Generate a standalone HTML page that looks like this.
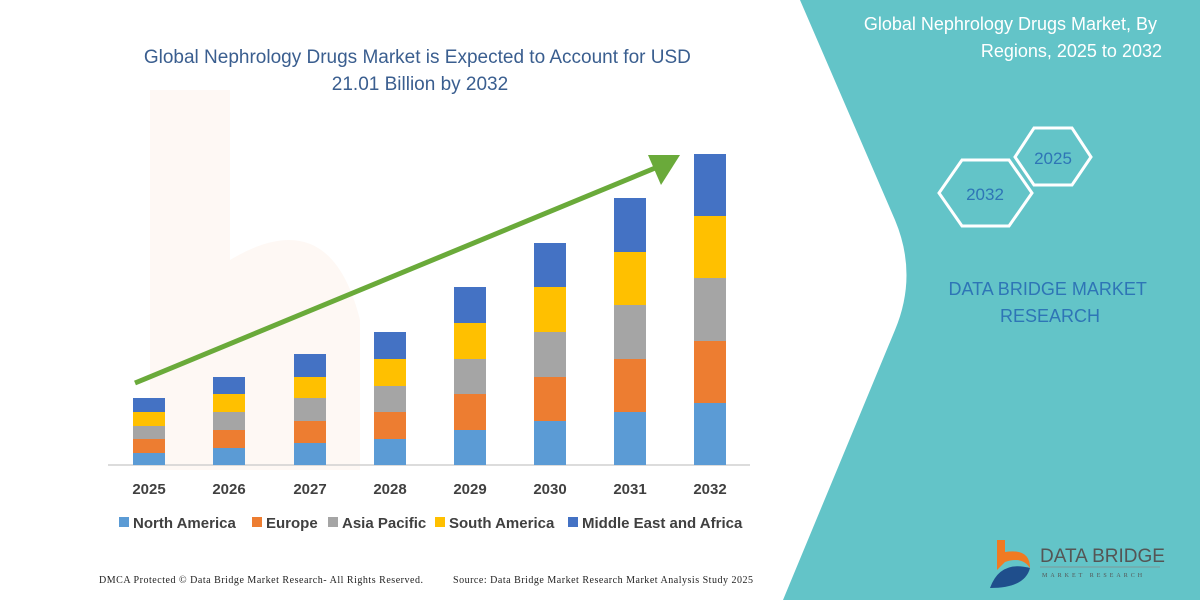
<!DOCTYPE html>
<html><head><meta charset="utf-8"><style>
html,body{margin:0;padding:0;background:#fff;}
svg{display:block;}
</style></head><body>
<svg width="1200" height="600" viewBox="0 0 1200 600" xmlns="http://www.w3.org/2000/svg">
<rect width="1200" height="600" fill="#fff"/>
<g opacity="0.05">
<path d="M150 90 L230 90 L230 260 Q330 200 360 320 L360 470 L150 470 Z" fill="#f07020"/>
</g>
<path d="M800 0 L1200 0 L1200 600 L783 600 L895 330 Q918 275 895 220 Z" fill="#63C4C8"/>
<text font-family="Liberation Sans, sans-serif" font-size="18" fill="#fff" text-anchor="end">
<tspan x="1162" y="30">Global Nephrology Drugs Market, By</tspan>
<tspan x="1162" y="57">Regions, 2025 to 2032</tspan></text>
<polygon points="1034,128 1072,128 1091,157 1072,185 1034,185 1015,157" fill="none" stroke="#fff" stroke-width="3"/>
<text x="1053" y="164" font-family="Liberation Sans, sans-serif" font-size="17" fill="#2E75B6" text-anchor="middle">2025</text>
<polygon points="962,160 1009,160 1032,193 1009,226 962,226 939,193" fill="none" stroke="#fff" stroke-width="3"/>
<text x="985" y="200" font-family="Liberation Sans, sans-serif" font-size="17" fill="#2E75B6" text-anchor="middle">2032</text>
<text font-family="Liberation Sans, sans-serif" font-size="18" fill="#2E75B6" text-anchor="middle">
<tspan x="1050" y="295">DATA BRIDGE MARKET</tspan>
<tspan x="1050" y="322">RESEARCH</tspan></text>
<path d="M997 540 L1005 540 L1005 552 Q1030 548 1030 568 Q1022 556 1005 562 L997 570 Z" fill="#F07A22"/>
<path d="M990 588 Q1000 560 1030 568 Q1025 588 990 588 Z" fill="#1F4E8C"/>
<text x="1040" y="562" font-family="Liberation Sans, sans-serif" font-size="19" fill="#555">DATA BRIDGE</text>
<line x1="1040" y1="567" x2="1160" y2="567" stroke="#888" stroke-width="0.8"/>
<text x="1042" y="577" font-family="Liberation Serif, serif" font-size="6" fill="#555" letter-spacing="3">MARKET RESEARCH</text>
<text font-family="Liberation Sans, sans-serif" font-size="19" fill="#3A5E8F" text-anchor="middle">
<tspan x="420" y="63">Global Nephrology Drugs Market is Expected to Account for USD</tspan>
<tspan x="420" y="90">21.01 Billion by 2032</tspan></text>
<line x1="108" y1="465" x2="750" y2="465" stroke="#d0d0d0" stroke-width="1.5"/>
<g>
<rect x="133" y="453" width="32" height="12" fill="#5B9BD5"/><rect x="133" y="439" width="32" height="14" fill="#ED7D31"/><rect x="133" y="426" width="32" height="13" fill="#A5A5A5"/><rect x="133" y="412" width="32" height="14" fill="#FFC000"/><rect x="133" y="398" width="32" height="14" fill="#4472C4"/>
<rect x="213" y="448" width="32" height="17" fill="#5B9BD5"/><rect x="213" y="430" width="32" height="18" fill="#ED7D31"/><rect x="213" y="412" width="32" height="18" fill="#A5A5A5"/><rect x="213" y="394" width="32" height="18" fill="#FFC000"/><rect x="213" y="377" width="32" height="17" fill="#4472C4"/>
<rect x="294" y="443" width="32" height="22" fill="#5B9BD5"/><rect x="294" y="421" width="32" height="22" fill="#ED7D31"/><rect x="294" y="398" width="32" height="23" fill="#A5A5A5"/><rect x="294" y="377" width="32" height="21" fill="#FFC000"/><rect x="294" y="354" width="32" height="23" fill="#4472C4"/>
<rect x="374" y="439" width="32" height="26" fill="#5B9BD5"/><rect x="374" y="412" width="32" height="27" fill="#ED7D31"/><rect x="374" y="386" width="32" height="26" fill="#A5A5A5"/><rect x="374" y="359" width="32" height="27" fill="#FFC000"/><rect x="374" y="332" width="32" height="27" fill="#4472C4"/>
<rect x="454" y="430" width="32" height="35" fill="#5B9BD5"/><rect x="454" y="394" width="32" height="36" fill="#ED7D31"/><rect x="454" y="359" width="32" height="35" fill="#A5A5A5"/><rect x="454" y="323" width="32" height="36" fill="#FFC000"/><rect x="454" y="287" width="32" height="36" fill="#4472C4"/>
<rect x="534" y="421" width="32" height="44" fill="#5B9BD5"/><rect x="534" y="377" width="32" height="44" fill="#ED7D31"/><rect x="534" y="332" width="32" height="45" fill="#A5A5A5"/><rect x="534" y="287" width="32" height="45" fill="#FFC000"/><rect x="534" y="243" width="32" height="44" fill="#4472C4"/>
<rect x="614" y="412" width="32" height="53" fill="#5B9BD5"/><rect x="614" y="359" width="32" height="53" fill="#ED7D31"/><rect x="614" y="305" width="32" height="54" fill="#A5A5A5"/><rect x="614" y="252" width="32" height="53" fill="#FFC000"/><rect x="614" y="198" width="32" height="54" fill="#4472C4"/>
<rect x="694" y="403" width="32" height="62" fill="#5B9BD5"/><rect x="694" y="341" width="32" height="62" fill="#ED7D31"/><rect x="694" y="278" width="32" height="63" fill="#A5A5A5"/><rect x="694" y="216" width="32" height="62" fill="#FFC000"/><rect x="694" y="154" width="32" height="62" fill="#4472C4"/>
</g>
<line x1="135" y1="383" x2="660" y2="166" stroke="#6AAA3A" stroke-width="5"/>
<polygon points="680,155 648,155 661,185" fill="#6AAA3A"/>
<g font-family="Liberation Sans, sans-serif" font-size="15" font-weight="bold" fill="#404040" text-anchor="middle">
<text x="149" y="494">2025</text><text x="229" y="494">2026</text><text x="310" y="494">2027</text><text x="390" y="494">2028</text>
<text x="470" y="494">2029</text><text x="550" y="494">2030</text><text x="630" y="494">2031</text><text x="710" y="494">2032</text>
</g>
<g font-family="Liberation Sans, sans-serif" font-size="15" font-weight="bold" fill="#404040">
<rect x="119" y="517" width="10" height="10" fill="#5B9BD5"/><text x="133" y="528">North America</text>
<rect x="252" y="517" width="10" height="10" fill="#ED7D31"/><text x="266" y="528">Europe</text>
<rect x="328" y="517" width="10" height="10" fill="#A5A5A5"/><text x="342" y="528">Asia Pacific</text>
<rect x="435" y="517" width="10" height="10" fill="#FFC000"/><text x="449" y="528">South America</text>
<rect x="568" y="517" width="10" height="10" fill="#4472C4"/><text x="582" y="528">Middle East and Africa</text>
</g>
<g font-family="Liberation Serif, serif" font-size="10" fill="#222">
<text x="99" y="583" textLength="324">DMCA Protected © Data Bridge Market Research-  All Rights Reserved.</text>
<text x="453" y="583" textLength="300">Source: Data Bridge Market Research  Market Analysis Study 2025</text>
</g>
</svg>
</body></html>
